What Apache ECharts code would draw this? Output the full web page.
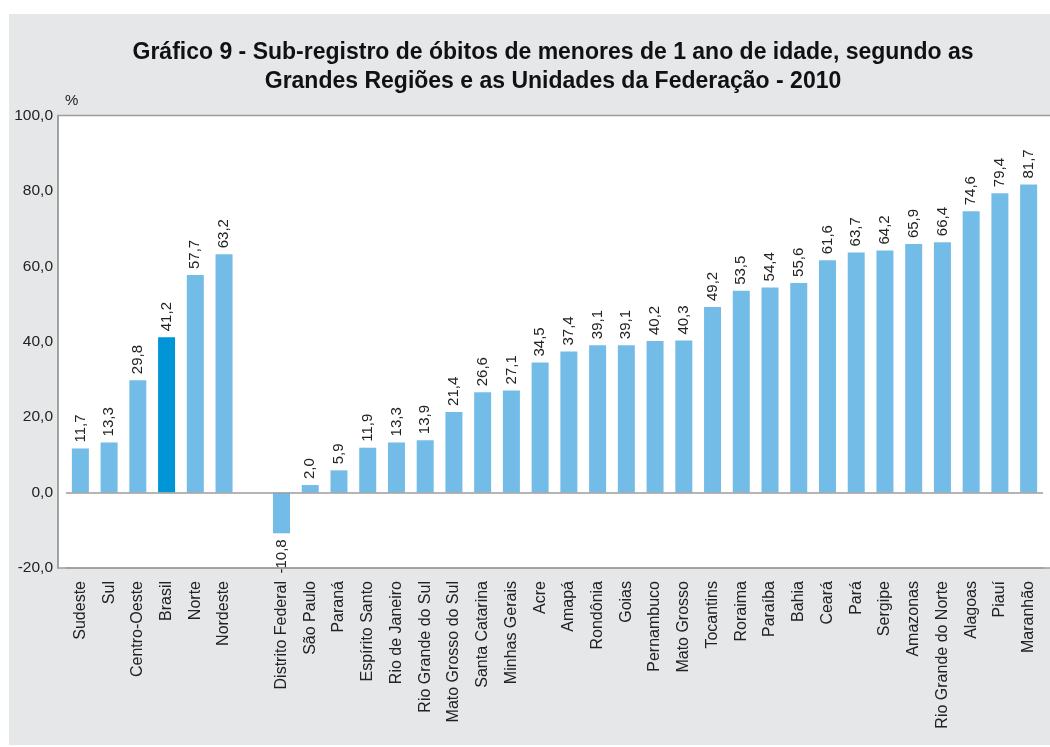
<!DOCTYPE html>
<html>
<head>
<meta charset="utf-8">
<script src="https://cdn.jsdelivr.net/npm/echarts@6/dist/echarts.min.js"></script>
<style>
  html, body { margin: 0; padding: 0; background: #fff; }
  #chart { width: 1050px; height: 747px; }
</style>
</head>
<body>
<div id="chart"></div>
<script>
// regiões, um espaço vazio, depois as UFs
const categories = [
  'Sudeste', 'Sul', 'Centro-Oeste', 'Brasil', 'Norte', 'Nordeste', '',
  'Distrito Federal', 'São Paulo', 'Paraná', 'Espírito Santo', 'Rio de Janeiro',
  'Rio Grande do Sul', 'Mato Grosso do Sul', 'Santa Catarina', 'Minhas Gerais',
  'Acre', 'Amapá', 'Rondônia', 'Goias', 'Pernambuco', 'Mato Grosso', 'Tocantins',
  'Roraima', 'Paraíba', 'Bahia', 'Ceará', 'Pará', 'Sergipe', 'Amazonas',
  'Rio Grande do Norte', 'Alagoas', 'Piauí', 'Maranhão'
];
const values = [
  11.7, 13.3, 29.8, 41.2, 57.7, 63.2, '-',
  -10.8, 2.0, 5.9, 11.9, 13.3, 13.9, 21.4, 26.6, 27.1,
  34.5, 37.4, 39.1, 39.1, 40.2, 40.3, 49.2,
  53.5, 54.4, 55.6, 61.6, 63.7, 64.2, 65.9,
  66.4, 74.6, 79.4, 81.7
];
const yTicks = [-20, 0, 20, 40, 60, 80, 100];
const highlight = 'Brasil';

const fmt = v => Number(v).toFixed(1).replace('.', ',');

const chart = echarts.init(document.getElementById('chart'));

const barData = values.map((v, i) => {
  if (v === '-') return v;
  const item = { value: v };
  if (categories[i] === highlight) item.itemStyle = { color: '#0096d6' };
  if (v < 0) item.label = { position: 'bottom', align: 'right' };
  return item;
});

const option = {
  backgroundColor: '#ffffff',
  animation: false,
  title: {
    text: 'Gráfico 9 - Sub-registro de óbitos de menores de 1 ano de idade, segundo as\nGrandes Regiões e as Unidades da Federação - 2010',
    left: 548,
    top: 33,
    textAlign: 'center',
    textStyle: {
      fontFamily: 'Liberation Sans',
      fontWeight: 'bold',
      fontSize: 23,
      lineHeight: 29,
      color: '#111'
    }
  },
  graphic: [
    { type: 'rect', z: -10, shape: { x: 9, y: 14, width: 1050, height: 731 }, style: { fill: '#e6e7e9' } },
    { type: 'rect', z: -9, shape: { x: 58, y: 115.5, width: 1000, height: 452.5 },
      style: { fill: '#ffffff', stroke: '#9d9d9d', lineWidth: 1.5 } }
  ],
  grid: { left: 66, right: 7, top: 115.5, bottom: 179 },
  xAxis: {
    type: 'category',
    data: categories,
    axisLine: { onZero: false, lineStyle: { color: '#9d9d9d', width: 1.5 } },
    axisTick: { show: false },
    axisLabel: {
      interval: 0,
      rotate: 90,
      margin: 13,
      fontFamily: 'Liberation Sans',
      fontSize: 16,
      color: '#222'
    }
  },
  yAxis: {
    type: 'value',
    min: -20,
    max: 100,
    interval: 20,
    offset: 8,
    name: '%',
    nameLocation: 'end',
    nameGap: 7,
    nameTextStyle: { fontFamily: 'Liberation Sans', fontSize: 15, color: '#222', align: 'left', padding: [0, 0, 0, 7] },
    axisLine: { show: true, lineStyle: { color: '#9d9d9d', width: 1.5 } },
    axisTick: { show: false },
    splitLine: { show: false },
    axisLabel: {
      margin: 5,
      fontFamily: 'Liberation Sans',
      fontSize: 15.5,
      color: '#222',
      customValues: yTicks,
      formatter: v => fmt(v)
    }
  },
  series: [{
    type: 'bar',
    data: barData,
    barWidth: 17,
    itemStyle: { color: '#74bce8' },
    label: {
      show: true,
      position: 'top',
      rotate: 90,
      align: 'left',
      verticalAlign: 'middle',
      distance: 6,
      fontFamily: 'Liberation Sans',
      fontSize: 15,
      color: '#222',
      formatter: p => fmt(p.value)
    },
    markLine: {
      silent: true,
      symbol: 'none',
      label: { show: false },
      lineStyle: { color: '#9d9d9d', width: 1.5, type: 'solid' },
      data: [{ yAxis: 0 }]
    }
  }]
};

chart.setOption(option);
</script>
</body>
</html>
